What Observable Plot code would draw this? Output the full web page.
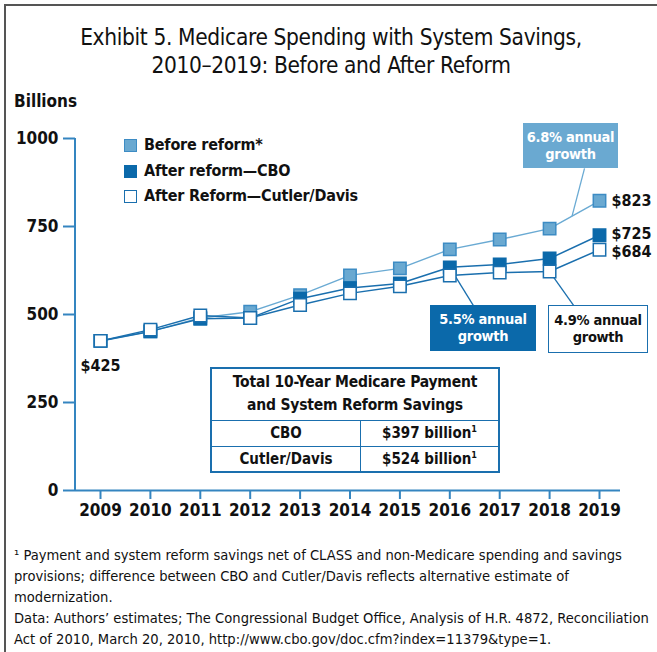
<!DOCTYPE html>
<html>
<head>
<meta charset="utf-8">
<script src="https://cdn.jsdelivr.net/npm/d3@7"></script>
<script src="https://cdn.jsdelivr.net/npm/@observablehq/plot@0.6"></script>
<style>
  html, body { margin: 0; padding: 0; background: #fff; }
  body { width: 657px; height: 652px; overflow: hidden; position: relative;
         font-family: "DejaVu Sans Condensed", "DejaVu Sans", sans-serif; font-stretch: condensed; color: #111; }
  #border { position: absolute; left: 4px; top: 4px; width: 700px; height: 700px; border-left: 2px solid #555; border-top: 2px solid #555; }
  .ov { position: absolute; }
  #title { left: 6px; width: 650px; top: 23px; text-align: center; font-size: 22.5px; letter-spacing: -0.35px; line-height: 28px; }
  #ylab { left: 14px; top: 90px; font-size: 17px; font-weight: bold; line-height: 22px; }
  #chart { left: 0; top: 80px; }
  .leg { left: 124px; font-size: 16px; letter-spacing: -0.2px; font-weight: bold; line-height: 22px; display: flex; align-items: center; white-space: nowrap; }
  .sw { width: 11px; height: 11px; border: 1.5px solid #2f80bd; margin-right: 7px; }
  .box { font-size: 14.5px; letter-spacing: -0.3px; font-weight: bold; line-height: 17px; text-align: center; box-sizing: border-box; display: flex; flex-direction: column; justify-content: center; white-space: nowrap; }
  #tbl { left: 210px; top: 367px; width: 290px; border-collapse: collapse; border: 2.5px solid #1a6fae; font-weight: bold; }
  #tbl td { border: 1.2px solid #1a6fae; text-align: center; padding: 0; white-space: nowrap; }
  #foot { left: 14px; top: 544px; width: 640px; font-size: 14.6px; line-height: 21px; white-space: nowrap; }
</style>
</head>
<body>
<div id="border"></div>
<div id="app"></div>
<script>
// ---- data ----
const years = [2009, 2010, 2011, 2012, 2013, 2014, 2015, 2016, 2017, 2018, 2019];
const beforeReform = [425, 452, 490, 508, 555, 611, 631, 685, 713, 744, 823];
const afterCBO     = [425, 452, 488, 490, 545, 575, 588, 634, 642, 659, 725];
const afterCutler  = [425, 457, 497, 490, 527, 560, 580, 611, 619, 622, 684];
const seriesNames = ["Before reform*", "After reform\u2014CBO", "After Reform\u2014Cutler/Davis"];
const yTicks = [0, 250, 500, 750, 1000];
const growthLabels = ["6.8% annual growth", "5.5% annual growth", "4.9% annual growth"];
const tableTitle = ["Total 10-Year Medicare Payment", "and System Reform Savings"];
const tableRows = ["CBO", "Cutler/Davis"];
const tableValues = ["$397 billion", "$524 billion"];
const titleLines = ["Exhibit 5. Medicare Spending with System Savings,", "2010\u20132019: Before and After Reform"];
const footLines = [
  "\u00b9 Payment and system reform savings net of CLASS and non-Medicare spending and savings",
  "provisions; difference between CBO and Cutler/Davis reflects alternative estimate of",
  "modernization.",
  "Data: Authors\u2019 estimates; The Congressional Budget Office, Analysis of H.R. 4872, Reconciliation",
  "Act of 2010, March 20, 2010, http://www.cbo.gov/doc.cfm?index=11379&type=1."
];

// ---- styles ----
const axisBlue = "#3485c0";
const lightFill = "#6aa9d1", lightStroke = "#3d8cc4", lightLine = "#6aaad3";
const darkBlue = "#0b69aa";
const midBlue = "#1a6fae";
const fontStack = "'DejaVu Sans Condensed','DejaVu Sans',sans-serif";

const seriesData = [beforeReform, afterCBO, afterCutler].map((vals, s) =>
  years.map((year, i) => ({year, value: vals[i], series: seriesNames[s]})));
const [dBefore, dCBO, dCutler] = seriesData;

const app = document.getElementById("app");
function ov(html, id, cls, style) {
  const d = document.createElement("div");
  if (id) d.id = id;
  d.className = "ov " + (cls || "");
  if (style) d.setAttribute("style", style);
  d.innerHTML = html;
  app.appendChild(d);
  return d;
}

ov(titleLines.join("<br>"), "title");
ov("Billions", "ylab");

// leader-line anchors in data units (series point -> annotation box)
const leaders = [
  {x1: 2018.45, y1: beforeReform[9] + 0.45 * (beforeReform[10] - beforeReform[9]), x2: 2018.70, y2: 915, c: lightLine},
  {x1: years[7], y1: afterCBO[7], x2: 2016.47, y2: 526, c: midBlue},
  {x1: years[9], y1: afterCutler[9], x2: 2018.48, y2: 526, c: midBlue}
];

const yAxisLine = (index, scales, values, dim) => {
  const g = d3.create("svg:line")
    .attr("x1", dim.marginLeft).attr("x2", dim.marginLeft)
    .attr("y1", dim.marginTop).attr("y2", dim.height - dim.marginBottom)
    .attr("stroke", axisBlue).attr("stroke-width", 2);
  return g.node();
};

const endLabels = [dBefore[10], dCBO[10], dCutler[10]];

const chart = Plot.plot({
  width: 657,
  height: 450,
  marginLeft: 75,
  marginRight: 37,
  marginTop: 58,
  marginBottom: 40,
  style: `font-family: ${fontStack}; font-stretch: condensed; font-size: 17px; font-weight: bold; color: #111; background: transparent; overflow: visible;`,
  x: {domain: [2009, 2019], insetLeft: 25, insetRight: 21},
  y: {domain: [0, 1000]},
  marks: [
    Plot.ruleY([0], {stroke: axisBlue, strokeWidth: 2}),
    yAxisLine,
    Plot.axisY({ticks: yTicks, tickFormat: d => `${d}`, tickSize: 12, tickPadding: 5, stroke: axisBlue, strokeWidth: 2, fill: "#111", label: null}),
    Plot.axisX({ticks: years, tickFormat: d => `${d}`, tickSize: 9, tickPadding: 4, stroke: axisBlue, strokeWidth: 2, fill: "#111", label: null}),
    Plot.link(leaders, {x1: "x1", y1: "y1", x2: "x2", y2: "y2", stroke: "c", strokeWidth: 1.3}),
    Plot.line(dBefore, {x: "year", y: "value", stroke: lightLine, strokeWidth: 1.4}),
    Plot.line(dCBO, {x: "year", y: "value", stroke: midBlue, strokeWidth: 1.5}),
    Plot.line(dCutler, {x: "year", y: "value", stroke: midBlue, strokeWidth: 1.5}),
    Plot.dot(dBefore, {x: "year", y: "value", symbol: "square", r: 7, fill: lightFill, stroke: lightStroke, strokeWidth: 1.5}),
    Plot.dot(dCBO, {x: "year", y: "value", symbol: "square", r: 7, fill: darkBlue, stroke: darkBlue, strokeWidth: 1.5}),
    Plot.dot(dCutler, {x: "year", y: "value", symbol: "square", r: 7, fill: "white", stroke: midBlue, strokeWidth: 1.5}),
    Plot.text(endLabels.slice(0, 1), {x: "year", y: "value", text: d => "$" + d.value, dx: 12, textAnchor: "start", fill: "#111", fontSize: 16}),
    Plot.text(endLabels.slice(1, 2), {x: "year", y: "value", text: d => "$" + d.value, dx: 12, dy: -1, textAnchor: "start", fill: "#111", fontSize: 16}),
    Plot.text(endLabels.slice(2, 3), {x: "year", y: "value", text: d => "$" + d.value, dx: 12, dy: 2, textAnchor: "start", fill: "#111", fontSize: 16}),
    Plot.text([dBefore[0]], {x: "year", y: "value", text: d => "$" + d.value, dy: 25, fill: "#111", fontSize: 16})
  ]
});
chart.id = "chart";
chart.classList.add("ov");
chart.style.position = "absolute";
app.appendChild(chart);

// legend
const legStyles = [
  `background:${lightFill};border-color:${lightStroke}`,
  `background:${darkBlue};border-color:${darkBlue}`,
  `background:#fff;border-color:${midBlue}`
];
[145, 171, 196].forEach((cy, i) => {
  ov(`<span class="sw" style="${legStyles[i]}"></span><span>${seriesNames[i]}</span>`, null, "leg", `top:${cy - 11}px`);
});

// growth annotation boxes
const gl = growthLabels.map(s => s.replace(" growth", "<br>growth"));
ov(gl[0], null, "box", `left:523px;top:123px;width:95px;height:45px;background:${lightFill};color:#fff;`);
ov(gl[1], null, "box", `left:430px;top:305px;width:106px;height:46px;background:${darkBlue};color:#fff;`);
ov(gl[2], null, "box", `left:548px;top:305px;width:100px;height:48px;background:#fff;border:1.5px solid ${midBlue};color:#111;`);

// savings table
const tbl = document.createElement("table");
tbl.id = "tbl";
tbl.className = "ov";
tbl.innerHTML =
  `<tr style="height:52px"><td colspan="2" style="font-size:15.5px;letter-spacing:-0.2px;line-height:23px">${tableTitle.join("<br>")}</td></tr>` +
  tableRows.map((r, i) => `<tr style="height:26px;font-size:15px"><td style="width:148px">${r}</td><td>${tableValues[i]}<sup style="font-size:9px">1</sup></td></tr>`).join("");
app.appendChild(tbl);

// footnote
ov(footLines.join("<br>"), "foot");
</script>
</body>
</html>
